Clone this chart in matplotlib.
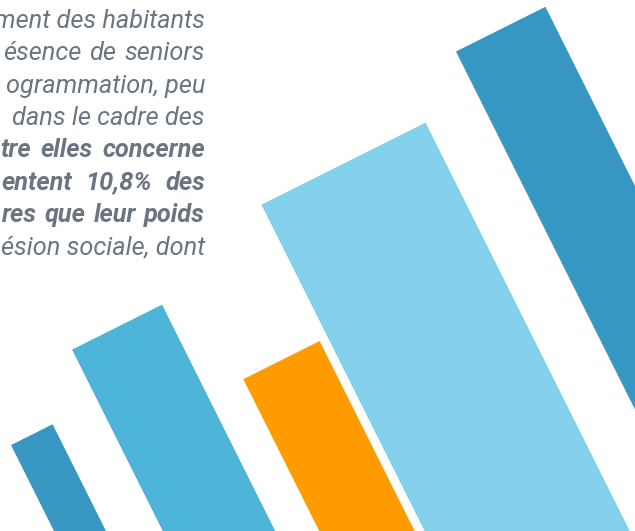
import numpy as np
import matplotlib
matplotlib.use("Agg")
import matplotlib.pyplot as plt
from matplotlib.transforms import Affine2D

# bar values (length of each slanted bar, measured up from a common baseline)
bar_values = [402, 460, 357, 505, 555]
bar_colors = ["#3896c2", "#4cb3d9", "#ff9b00", "#82d0ec", "#3896c2"]

# paragraph fragments (visible right-hand part of a justified French text)
text_lines = [
    "ment des habitants",
    "ésence de seniors",
    "ogrammation, peu",
    "dans le cadre des",
    "tre elles concerne",
    "entent 10,8% des",
    "res que leur poids",
    "ésion sociale, dont",
]
text_bold = [False, False, False, False, True, True, True, False]

# layout of the bars in the rotated frame
bar_left = [213.3, 310.6, 450.5, 544.8, 787.3]
bar_width = [46.5, 100.6, 85.4, 183.5, 100.0]
# left edge of justified lines (None = natural spacing, right aligned)
line_left = [None, 3, None, None, 0, 1, 2, None]

W, H = 635, 531
fig = plt.figure(figsize=(W / 100, H / 100), dpi=100)
ax = fig.add_axes([0, 0, 1, 1])
ax.set_xlim(0, W)
ax.set_ylim(H, 0)
ax.axis("off")

# bars are tilted: tan(angle) = 0.5
th = np.arctan(0.5)
c, s = np.cos(th), np.sin(th)
rot = Affine2D(np.array([[c, -s, 0.0],
                         [-s, -c, 900.0],
                         [0, 0, 1]]))
ax.bar(bar_left, bar_values, width=bar_width, align="edge",
       color=bar_colors, linewidth=0, transform=rot + ax.transData)

renderer = fig.canvas.get_renderer()
x_right = 205
y0, dy = 21, 32.3
for i, (line, bold) in enumerate(zip(text_lines, text_bold)):
    kw = dict(va="center", fontsize=18.3, family="Roboto", style="italic",
              weight="bold" if bold else "normal", color="#6b7582")
    y = y0 + i * dy
    if line_left[i] is None:
        ax.text(x_right, y, line, ha="right", **kw)
        continue
    # justified line: spread the words between left and right edges
    words = line.split(" ")
    arts = [ax.text(0, y, w, ha="left", **kw) for w in words]
    widths = [a.get_window_extent(renderer).width for a in arts]
    gap = (x_right - line_left[i] - sum(widths)) / (len(words) - 1)
    x = line_left[i]
    for a, w in zip(arts, widths):
        a.set_x(x)
        x += w + gap

fig.savefig("out.png", dpi=100)
